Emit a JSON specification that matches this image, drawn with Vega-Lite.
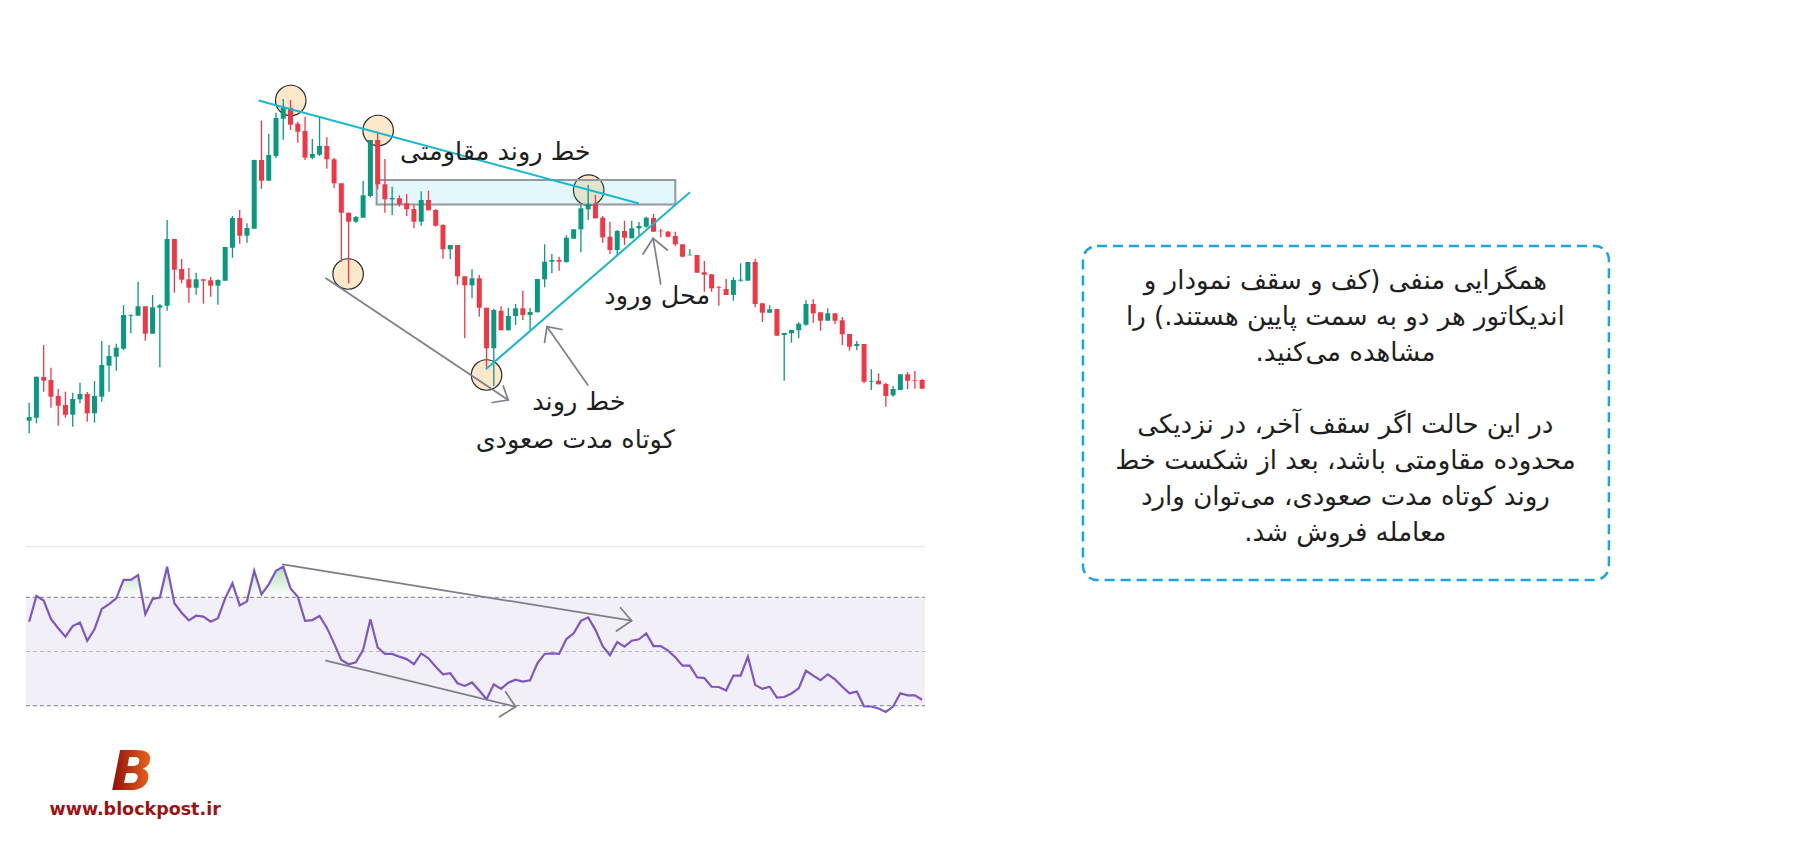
{
  "$schema": "https://vega.github.io/schema/vega-lite/v6.json",
  "width": 1820,
  "height": 845,
  "autosize": {"type": "fit", "contains": "padding"},
  "padding": 0,
  "background": "white",
  "config": {"view": {"stroke": null}},
  "datasets": {
    "candles": [
      {"i":1,"o":42.43,"h":44.23,"l":41.17,"c":42.8},
      {"i":2,"o":42.73,"h":46.83,"l":42.17,"c":46.83},
      {"i":3,"o":46.8,"h":50.0,"l":45.33,"c":46.43},
      {"i":4,"o":46.5,"h":47.73,"l":43.73,"c":44.83},
      {"i":5,"o":44.9,"h":45.6,"l":41.93,"c":43.93},
      {"i":6,"o":44.0,"h":45.33,"l":42.73,"c":43.03},
      {"i":7,"o":43.03,"h":45.23,"l":41.83,"c":44.6},
      {"i":8,"o":44.57,"h":46.23,"l":44.17,"c":45.1},
      {"i":9,"o":45.1,"h":45.3,"l":42.33,"c":43.17},
      {"i":10,"o":43.17,"h":46.4,"l":42.23,"c":44.9},
      {"i":11,"o":44.83,"h":50.4,"l":44.33,"c":48.0},
      {"i":12,"o":47.93,"h":50.0,"l":45.33,"c":48.9},
      {"i":13,"o":48.83,"h":50.13,"l":47.43,"c":49.73},
      {"i":14,"o":49.63,"h":54.0,"l":49.5,"c":53.0},
      {"i":15,"o":52.93,"h":53.07,"l":51.17,"c":53.0},
      {"i":16,"o":52.93,"h":56.33,"l":52.93,"c":53.87},
      {"i":17,"o":53.87,"h":53.87,"l":50.43,"c":51.13},
      {"i":18,"o":51.13,"h":55.0,"l":51.13,"c":53.77},
      {"i":19,"o":53.73,"h":54.1,"l":47.77,"c":53.97},
      {"i":20,"o":53.93,"h":62.5,"l":53.43,"c":60.6},
      {"i":21,"o":60.6,"h":60.6,"l":55.23,"c":57.53},
      {"i":22,"o":57.6,"h":58.6,"l":56.17,"c":56.53},
      {"i":23,"o":56.57,"h":57.7,"l":54.23,"c":55.73},
      {"i":24,"o":55.73,"h":57.23,"l":55.03,"c":56.57},
      {"i":25,"o":56.57,"h":56.57,"l":54.13,"c":56.43},
      {"i":26,"o":56.47,"h":56.8,"l":54.83,"c":55.93},
      {"i":27,"o":55.93,"h":56.57,"l":54.03,"c":56.5},
      {"i":28,"o":56.43,"h":59.8,"l":56.43,"c":59.8},
      {"i":29,"o":59.73,"h":62.9,"l":58.73,"c":62.7},
      {"i":30,"o":62.7,"h":63.5,"l":60.13,"c":60.93},
      {"i":31,"o":60.93,"h":62.17,"l":60.23,"c":61.7},
      {"i":32,"o":61.63,"h":68.53,"l":61.63,"c":68.5},
      {"i":33,"o":68.5,"h":72.43,"l":65.63,"c":66.43},
      {"i":34,"o":66.43,"h":71.13,"l":66.43,"c":69.0},
      {"i":35,"o":68.9,"h":73.23,"l":68.7,"c":72.7},
      {"i":36,"o":72.63,"h":74.6,"l":70.53,"c":73.7},
      {"i":37,"o":73.7,"h":74.5,"l":71.5,"c":72.03},
      {"i":38,"o":72.13,"h":72.33,"l":70.23,"c":71.33},
      {"i":39,"o":71.4,"h":72.83,"l":68.5,"c":68.73},
      {"i":40,"o":68.73,"h":70.6,"l":68.57,"c":69.1},
      {"i":41,"o":69.03,"h":72.73,"l":68.9,"c":69.9},
      {"i":42,"o":69.9,"h":70.77,"l":67.63,"c":68.57},
      {"i":43,"o":68.57,"h":68.73,"l":65.67,"c":66.17},
      {"i":44,"o":66.17,"h":66.17,"l":58.3,"c":63.23},
      {"i":45,"o":63.23,"h":63.23,"l":56.17,"c":62.33},
      {"i":46,"o":62.33,"h":62.9,"l":62.23,"c":62.8},
      {"i":47,"o":62.73,"h":66.4,"l":62.73,"c":64.97},
      {"i":48,"o":64.9,"h":70.5,"l":64.77,"c":70.5},
      {"i":49,"o":70.5,"h":71.33,"l":65.57,"c":66.07},
      {"i":50,"o":66.07,"h":68.6,"l":63.23,"c":64.57},
      {"i":51,"o":64.57,"h":65.83,"l":63.0,"c":64.7},
      {"i":52,"o":64.67,"h":64.97,"l":63.83,"c":64.1},
      {"i":53,"o":64.17,"h":65.1,"l":62.9,"c":63.57},
      {"i":54,"o":63.6,"h":64.0,"l":61.67,"c":62.33},
      {"i":55,"o":62.33,"h":65.37,"l":61.93,"c":64.5},
      {"i":56,"o":64.5,"h":65.43,"l":63.47,"c":63.47},
      {"i":57,"o":63.5,"h":63.57,"l":61.83,"c":61.93},
      {"i":58,"o":62.0,"h":62.07,"l":58.63,"c":59.57},
      {"i":59,"o":59.57,"h":60.0,"l":58.57,"c":60.0},
      {"i":60,"o":60.0,"h":60.0,"l":56.03,"c":56.87},
      {"i":61,"o":56.87,"h":56.87,"l":50.67,"c":55.97},
      {"i":62,"o":55.97,"h":57.57,"l":54.67,"c":56.67},
      {"i":63,"o":56.67,"h":57.0,"l":52.83,"c":53.73},
      {"i":64,"o":53.73,"h":53.73,"l":47.7,"c":49.67},
      {"i":65,"o":49.67,"h":53.63,"l":45.9,"c":53.5},
      {"i":66,"o":53.43,"h":53.87,"l":51.47,"c":51.47},
      {"i":67,"o":51.47,"h":53.7,"l":51.47,"c":52.9},
      {"i":68,"o":52.9,"h":54.1,"l":52.0,"c":53.67},
      {"i":69,"o":53.67,"h":55.43,"l":52.5,"c":53.0},
      {"i":70,"o":53.0,"h":53.7,"l":51.5,"c":53.3},
      {"i":71,"o":53.27,"h":56.6,"l":53.27,"c":56.6},
      {"i":72,"o":56.57,"h":60.07,"l":55.77,"c":58.33},
      {"i":73,"o":58.33,"h":59.1,"l":57.17,"c":58.5},
      {"i":74,"o":58.5,"h":58.83,"l":57.43,"c":58.33},
      {"i":75,"o":58.3,"h":60.97,"l":58.23,"c":60.73},
      {"i":76,"o":60.63,"h":61.57,"l":60.63,"c":61.57},
      {"i":77,"o":61.57,"h":64.07,"l":59.27,"c":63.67},
      {"i":78,"o":63.57,"h":66.0,"l":62.5,"c":64.1},
      {"i":79,"o":64.1,"h":65.0,"l":62.67,"c":62.67},
      {"i":80,"o":62.73,"h":62.9,"l":60.23,"c":60.77},
      {"i":81,"o":60.83,"h":62.33,"l":59.1,"c":59.5},
      {"i":82,"o":59.5,"h":61.5,"l":59.0,"c":61.4},
      {"i":83,"o":61.4,"h":62.43,"l":60.0,"c":60.73},
      {"i":84,"o":60.67,"h":62.43,"l":60.67,"c":61.67},
      {"i":85,"o":61.67,"h":62.3,"l":60.83,"c":61.9},
      {"i":86,"o":61.83,"h":62.83,"l":61.73,"c":62.73},
      {"i":87,"o":62.7,"h":63.1,"l":61.33,"c":61.33},
      {"i":88,"o":61.43,"h":61.6,"l":60.77,"c":61.37},
      {"i":89,"o":61.33,"h":61.4,"l":60.77,"c":60.83},
      {"i":90,"o":60.9,"h":61.33,"l":59.9,"c":60.07},
      {"i":91,"o":60.07,"h":60.07,"l":58.83,"c":58.83},
      {"i":92,"o":58.97,"h":59.57,"l":58.97,"c":59.03},
      {"i":93,"o":59.0,"h":59.0,"l":57.23,"c":57.23},
      {"i":94,"o":57.27,"h":58.4,"l":55.33,"c":57.03},
      {"i":95,"o":57.07,"h":57.07,"l":55.33,"c":55.67},
      {"i":96,"o":55.77,"h":55.9,"l":53.93,"c":55.7},
      {"i":97,"o":55.6,"h":56.6,"l":55.0,"c":55.0},
      {"i":98,"o":55.0,"h":56.77,"l":54.43,"c":56.5},
      {"i":99,"o":56.43,"h":58.17,"l":56.33,"c":56.53},
      {"i":100,"o":56.43,"h":58.3,"l":56.43,"c":58.3},
      {"i":101,"o":58.3,"h":58.63,"l":53.77,"c":54.1},
      {"i":102,"o":54.17,"h":54.17,"l":52.3,"c":53.23},
      {"i":103,"o":53.23,"h":53.97,"l":53.23,"c":53.57},
      {"i":104,"o":53.6,"h":53.6,"l":50.93,"c":50.93},
      {"i":105,"o":51.0,"h":51.2,"l":46.43,"c":51.2},
      {"i":106,"o":51.17,"h":51.5,"l":50.23,"c":51.5},
      {"i":107,"o":51.47,"h":52.27,"l":50.67,"c":52.13},
      {"i":108,"o":52.03,"h":54.47,"l":51.93,"c":54.1},
      {"i":109,"o":54.1,"h":54.57,"l":52.23,"c":53.17},
      {"i":110,"o":53.27,"h":53.27,"l":51.43,"c":52.43},
      {"i":111,"o":52.43,"h":53.67,"l":52.43,"c":53.17},
      {"i":112,"o":53.17,"h":53.17,"l":52.1,"c":52.43},
      {"i":113,"o":52.47,"h":52.8,"l":49.97,"c":51.07},
      {"i":114,"o":51.1,"h":51.1,"l":49.43,"c":49.83},
      {"i":115,"o":49.9,"h":50.4,"l":49.47,"c":50.1},
      {"i":116,"o":50.1,"h":50.1,"l":46.17,"c":46.33},
      {"i":117,"o":46.33,"h":47.57,"l":45.5,"c":46.4},
      {"i":118,"o":46.43,"h":47.17,"l":46.07,"c":46.07},
      {"i":119,"o":46.1,"h":46.23,"l":43.83,"c":44.9},
      {"i":120,"o":44.97,"h":45.9,"l":44.83,"c":45.6},
      {"i":121,"o":45.5,"h":47.07,"l":45.5,"c":47.07},
      {"i":122,"o":47.07,"h":47.3,"l":45.57,"c":46.43},
      {"i":123,"o":46.5,"h":47.4,"l":45.63,"c":46.43},
      {"i":124,"o":46.5,"h":46.6,"l":45.63,"c":45.63}
    ],
    "rsi": [
      {"i":1,"r":61.0},{"i":2,"r":70.5},{"i":3,"r":68.8},{"i":4,"r":62.0},{"i":5,"r":58.6},
      {"i":6,"r":55.5},{"i":7,"r":59.4},{"i":8,"r":60.7},{"i":9,"r":53.9},{"i":10,"r":58.2},
      {"i":11,"r":65.7},{"i":12,"r":67.5},{"i":13,"r":69.6},{"i":14,"r":76.4},{"i":15,"r":76.4},
      {"i":16,"r":78.2},{"i":17,"r":63.8},{"i":18,"r":69.4},{"i":19,"r":69.9},{"i":20,"r":81.3},
      {"i":21,"r":67.8},{"i":22,"r":64.3},{"i":23,"r":61.5},{"i":24,"r":63.2},{"i":25,"r":62.9},
      {"i":26,"r":61.0},{"i":27,"r":62.3},{"i":28,"r":69.6},{"i":29,"r":75.2},{"i":30,"r":67.0},
      {"i":31,"r":68.5},{"i":32,"r":79.8},{"i":33,"r":71.1},{"i":34,"r":74.8},{"i":35,"r":79.8},
      {"i":36,"r":81.3},{"i":37,"r":73.3},{"i":38,"r":70.2},{"i":39,"r":61.3},{"i":40,"r":61.6},
      {"i":41,"r":63.1},{"i":42,"r":58.8},{"i":43,"r":53.0},{"i":44,"r":46.9},{"i":45,"r":45.3},
      {"i":46,"r":46.0},{"i":47,"r":50.6},{"i":48,"r":61.9},{"i":49,"r":51.5},{"i":50,"r":49.1},
      {"i":51,"r":49.1},{"i":52,"r":48.1},{"i":53,"r":47.2},{"i":54,"r":45.3},{"i":55,"r":49.3},
      {"i":56,"r":47.5},{"i":57,"r":44.4},{"i":58,"r":41.6},{"i":59,"r":42.0},{"i":60,"r":38.3},
      {"i":61,"r":37.3},{"i":62,"r":38.6},{"i":63,"r":35.6},{"i":64,"r":32.4},{"i":65,"r":37.9},
      {"i":66,"r":36.2},{"i":67,"r":38.5},{"i":68,"r":39.6},{"i":69,"r":38.9},{"i":70,"r":39.4},
      {"i":71,"r":45.6},{"i":72,"r":49.1},{"i":73,"r":49.3},{"i":74,"r":49.1},{"i":75,"r":54.6},
      {"i":76,"r":56.7},{"i":77,"r":61.3},{"i":78,"r":62.6},{"i":79,"r":58.0},{"i":80,"r":52.0},
      {"i":81,"r":48.6},{"i":82,"r":53.5},{"i":83,"r":51.8},{"i":84,"r":54.0},{"i":85,"r":54.5},
      {"i":86,"r":56.7},{"i":87,"r":52.0},{"i":88,"r":52.0},{"i":89,"r":50.3},{"i":90,"r":47.9},
      {"i":91,"r":44.8},{"i":92,"r":44.8},{"i":93,"r":40.5},{"i":94,"r":40.2},{"i":95,"r":37.0},
      {"i":96,"r":36.9},{"i":97,"r":35.6},{"i":98,"r":41.1},{"i":99,"r":41.1},{"i":100,"r":48.1},
      {"i":101,"r":37.7},{"i":102,"r":36.2},{"i":103,"r":37.0},{"i":104,"r":33.0},{"i":105,"r":33.2},
      {"i":106,"r":34.5},{"i":107,"r":36.4},{"i":108,"r":42.9},{"i":109,"r":41.1},{"i":110,"r":39.4},
      {"i":111,"r":41.6},{"i":112,"r":39.7},{"i":113,"r":37.0},{"i":114,"r":34.6},{"i":115,"r":35.2},
      {"i":116,"r":29.7},{"i":117,"r":29.7},{"i":118,"r":29.0},{"i":119,"r":27.7},{"i":120,"r":29.7},
      {"i":121,"r":34.6},{"i":122,"r":33.8},{"i":123,"r":33.8},{"i":124,"r":32.2}
    ],
    "circles": [
      {"i":37.03,"p":74.45},
      {"i":49.07,"p":71.45},
      {"i":44.93,"p":57.1},
      {"i":64.0,"p":47.0},
      {"i":78.07,"p":65.48}
    ],
    "zone": [{"i1":48.86,"i2":90.0,"p1":66.5,"p2":64.05}],
    "trendlines": [
      {"i1":32.6,"p1":74.45,"i2":85.0,"p2":64.15},
      {"i1":63.9,"p1":47.57,"i2":92.01,"p2":65.27}
    ],
    "arrows": [
      {"i1":41.88,"p1":56.67,"i2":66.99,"p2":44.5},
      {"i1":66.99,"p1":44.5,"i2":66.3,"p2":45.9},
      {"i1":66.99,"p1":44.5,"i2":64.79,"p2":44.25},
      {"i1":77.95,"p1":46.0,"i2":72.33,"p2":51.83},
      {"i1":72.33,"p1":51.83,"i2":71.99,"p2":50.25},
      {"i1":72.33,"p1":51.83,"i2":74.38,"p2":51.55},
      {"i1":87.99,"p1":56.1,"i2":86.95,"p2":60.67},
      {"i1":86.95,"p1":60.67,"i2":85.55,"p2":59.1},
      {"i1":86.95,"p1":60.67,"i2":88.9,"p2":59.5}
    ],
    "labels": [
      {"i":65.21,"p":69.35,"text":"خط روند مقاومتی"},
      {"i":76.71,"p":44.35,"text":"خط روند"},
      {"i":76.22,"p":40.5,"text":"کوتاه مدت صعودی"},
      {"i":87.51,"p":54.9,"text":"محل ورود"}
    ],
    "notebox": [{"i1":146.15,"i2":218.6,"p1":59.9,"p2":26.5}],
    "note": [
      {"i":182.3,"p":56.4,"text":"همگرایی منفی (کف و سقف نمودار و\nاندیکاتور هر دو به سمت پایین هستند.) را\nمشاهده می‌کنید.‏"},
      {"i":182.3,"p":42.02,"text":"در این حالت اگر سقف آخر، در نزدیکی\nمحدوده مقاومتی باشد، بعد از شکست خط\nروند کوتاه مدت صعودی، می‌توان وارد\nمعامله فروش شد.‏"}
    ],
    "logo": [{"i":15.2,"p":7.25,"text":"B"}],
    "site": [{"i":15.6,"p":3.5,"text":"www.blockpost.ir"}],
    "levels": [{"r":70},{"r":30}],
    "rsiarrows": [
      {"i1":35.93,"r1":82.18,"i2":83.97,"r2":61.37},
      {"i1":83.97,"r1":61.37,"i2":82.45,"r2":66.17},
      {"i1":83.97,"r1":61.37,"i2":81.9,"r2":57.56},
      {"i1":41.88,"r1":46.61,"i2":67.99,"r2":29.63},
      {"i1":67.99,"r1":29.63,"i2":66.62,"r2":35.17},
      {"i1":67.99,"r1":29.63,"i2":65.79,"r2":25.94}
    ]
  },
  "layer": [
    {
      "layer": [
        {
          "data": {"name": "circles"},
          "mark": {"type": "point", "shape": "circle", "filled": true, "size": 930, "color": "#FDE8CC", "stroke": "#2B2B2B", "strokeWidth": 1.2, "opacity": 1},
          "encoding": {
            "x": {"field": "i", "type": "quantitative", "scale": {"domain": [-2.329, 246.986], "nice": false, "zero": false}, "axis": null},
            "y": {"field": "p", "type": "quantitative", "scale": {"domain": [0, 84.5], "nice": false, "zero": false}, "axis": null}
          }
        },
        {
          "data": {"name": "zone"},
          "mark": {"type": "rect", "fill": "#00BCD4", "fillOpacity": 0.11, "stroke": "#9598A1", "strokeWidth": 2},
          "encoding": {
            "x": {"field": "i1", "type": "quantitative", "scale": {"domain": [-2.329, 246.986], "nice": false, "zero": false}, "axis": null},
            "x2": {"field": "i2"},
            "y": {"field": "p1", "type": "quantitative", "scale": {"domain": [0, 84.5], "nice": false, "zero": false}, "axis": null},
            "y2": {"field": "p2"}
          }
        },
        {
          "data": {"name": "candles"},
          "mark": {"type": "rule", "strokeWidth": 1.3},
          "encoding": {
            "x": {"field": "i", "type": "quantitative", "scale": {"domain": [-2.329, 246.986], "nice": false, "zero": false}, "axis": null},
            "y": {"field": "l", "type": "quantitative", "scale": {"domain": [0, 84.5], "nice": false, "zero": false}, "axis": null},
            "y2": {"field": "h"},
            "color": {"condition": {"test": "datum.c >= datum.o", "value": "#089981"}, "value": "#F23645"}
          }
        },
        {
          "data": {"name": "candles"},
          "mark": {"type": "bar", "size": 5},
          "encoding": {
            "x": {"field": "i", "type": "quantitative", "scale": {"domain": [-2.329, 246.986], "nice": false, "zero": false}, "axis": null},
            "y": {"field": "o", "type": "quantitative", "scale": {"domain": [0, 84.5], "nice": false, "zero": false}, "axis": null},
            "y2": {"field": "c"},
            "color": {"condition": {"test": "datum.c >= datum.o", "value": "#089981"}, "value": "#F23645"}
          }
        },
        {
          "data": {"name": "trendlines"},
          "mark": {"type": "rule", "color": "#18B8D3", "strokeWidth": 2},
          "encoding": {
            "x": {"field": "i1", "type": "quantitative", "scale": {"domain": [-2.329, 246.986], "nice": false, "zero": false}, "axis": null},
            "x2": {"field": "i2"},
            "y": {"field": "p1", "type": "quantitative", "scale": {"domain": [0, 84.5], "nice": false, "zero": false}, "axis": null},
            "y2": {"field": "p2"}
          }
        },
        {
          "data": {"name": "arrows"},
          "mark": {"type": "rule", "color": "#7C7F8A", "strokeWidth": 1.7, "strokeCap": "round"},
          "encoding": {
            "x": {"field": "i1", "type": "quantitative", "scale": {"domain": [-2.329, 246.986], "nice": false, "zero": false}, "axis": null},
            "x2": {"field": "i2"},
            "y": {"field": "p1", "type": "quantitative", "scale": {"domain": [0, 84.5], "nice": false, "zero": false}, "axis": null},
            "y2": {"field": "p2"}
          }
        },
        {
          "data": {"name": "labels"},
          "mark": {"type": "text", "font": "DejaVu Sans", "fontSize": 25.5, "color": "#1E1E1E", "align": "center", "baseline": "middle"},
          "encoding": {
            "x": {"field": "i", "type": "quantitative", "scale": {"domain": [-2.329, 246.986], "nice": false, "zero": false}, "axis": null},
            "y": {"field": "p", "type": "quantitative", "scale": {"domain": [0, 84.5], "nice": false, "zero": false}, "axis": null},
            "text": {"field": "text"}
          }
        },
        {
          "data": {"name": "notebox"},
          "mark": {"type": "rect", "cornerRadius": 14, "fill": "white", "fillOpacity": 0, "stroke": "#1AA6E2", "strokeWidth": 2.5, "strokeDash": [10, 6]},
          "encoding": {
            "x": {"field": "i1", "type": "quantitative", "scale": {"domain": [-2.329, 246.986], "nice": false, "zero": false}, "axis": null},
            "x2": {"field": "i2"},
            "y": {"field": "p1", "type": "quantitative", "scale": {"domain": [0, 84.5], "nice": false, "zero": false}, "axis": null},
            "y2": {"field": "p2"}
          }
        },
        {
          "data": {"name": "note"},
          "mark": {"type": "text", "font": "DejaVu Sans", "fontSize": 26, "lineHeight": 36, "lineBreak": "\n", "color": "#1E1E1E", "align": "center", "baseline": "middle"},
          "encoding": {
            "x": {"field": "i", "type": "quantitative", "scale": {"domain": [-2.329, 246.986], "nice": false, "zero": false}, "axis": null},
            "y": {"field": "p", "type": "quantitative", "scale": {"domain": [0, 84.5], "nice": false, "zero": false}, "axis": null},
            "text": {"field": "text"}
          }
        },
        {
          "data": {"name": "logo"},
          "mark": {"type": "text", "font": "DejaVu Sans", "fontSize": 56, "fontWeight": "bold", "fontStyle": "italic", "align": "center", "baseline": "middle",
            "color": {"gradient": "linear", "x1": 0, "y1": 0, "x2": 1, "y2": 0, "stops": [{"offset": 0, "color": "#8E0B0B"}, {"offset": 1, "color": "#F26A1B"}]}},
          "encoding": {
            "x": {"field": "i", "type": "quantitative", "scale": {"domain": [-2.329, 246.986], "nice": false, "zero": false}, "axis": null},
            "y": {"field": "p", "type": "quantitative", "scale": {"domain": [0, 84.5], "nice": false, "zero": false}, "axis": null},
            "text": {"field": "text"}
          }
        },
        {
          "data": {"name": "site"},
          "mark": {"type": "text", "font": "DejaVu Sans", "fontSize": 17.5, "fontWeight": "bold", "color": "#9E1212", "align": "center", "baseline": "middle"},
          "encoding": {
            "x": {"field": "i", "type": "quantitative", "scale": {"domain": [-2.329, 246.986], "nice": false, "zero": false}, "axis": null},
            "y": {"field": "p", "type": "quantitative", "scale": {"domain": [0, 84.5], "nice": false, "zero": false}, "axis": null},
            "text": {"field": "text"}
          }
        }
      ]
    },
    {
      "layer": [
        {
          "data": {"name": "rsi"},
          "mark": {"type": "area", "color": {"gradient": "linear", "x1": 0, "y1": 0, "x2": 0, "y2": 1, "stops": [{"offset": 0, "color": "rgba(76,175,80,0.40)"}, {"offset": 0.21, "color": "rgba(76,175,80,0.0)"}, {"offset": 1, "color": "rgba(76,175,80,0.0)"}]}},
          "encoding": {
            "x": {"field": "i", "type": "quantitative", "scale": {"domain": [-2.329, 246.986], "nice": false, "zero": false}, "axis": null},
            "y": {"field": "r", "type": "quantitative", "scale": {"domain": [-21.4, 290.41], "nice": false, "zero": false}, "axis": null},
            "y2": {"datum": 70}
          }
        },
        {
          "data": {"values": [{}]},
          "mark": {"type": "rect", "fill": "#F2EFF9"},
          "encoding": {
            "x": {"datum": 0.55, "type": "quantitative", "scale": {"domain": [-2.329, 246.986], "nice": false, "zero": false}, "axis": null},
            "x2": {"datum": 124.38},
            "y": {"datum": 70, "type": "quantitative", "scale": {"domain": [-21.4, 290.41], "nice": false, "zero": false}, "axis": null},
            "y2": {"datum": 30}
          }
        },
        {
          "data": {"values": [{}]},
          "mark": {"type": "rule", "color": "#E0E3EB", "strokeWidth": 1},
          "encoding": {
            "x": {"datum": 0.55, "type": "quantitative", "scale": {"domain": [-2.329, 246.986], "nice": false, "zero": false}, "axis": null},
            "x2": {"datum": 124.38},
            "y": {"datum": 88.67, "type": "quantitative", "scale": {"domain": [-21.4, 290.41], "nice": false, "zero": false}, "axis": null}
          }
        },
        {
          "data": {"name": "levels"},
          "mark": {"type": "rule", "color": "#787B86", "strokeWidth": 1, "strokeDash": [4, 3]},
          "encoding": {
            "x": {"datum": 0.55, "type": "quantitative", "scale": {"domain": [-2.329, 246.986], "nice": false, "zero": false}, "axis": null},
            "x2": {"datum": 124.38},
            "y": {"field": "r", "type": "quantitative", "scale": {"domain": [-21.4, 290.41], "nice": false, "zero": false}, "axis": null}
          }
        },
        {
          "data": {"values": [{}]},
          "mark": {"type": "rule", "color": "#B8BAC2", "strokeWidth": 1, "strokeDash": [4, 3]},
          "encoding": {
            "x": {"datum": 0.55, "type": "quantitative", "scale": {"domain": [-2.329, 246.986], "nice": false, "zero": false}, "axis": null},
            "x2": {"datum": 124.38},
            "y": {"datum": 50, "type": "quantitative", "scale": {"domain": [-21.4, 290.41], "nice": false, "zero": false}, "axis": null}
          }
        },
        {
          "data": {"name": "rsi"},
          "mark": {"type": "line", "color": "#7E57C2", "strokeWidth": 2.2},
          "encoding": {
            "x": {"field": "i", "type": "quantitative", "scale": {"domain": [-2.329, 246.986], "nice": false, "zero": false}, "axis": null},
            "y": {"field": "r", "type": "quantitative", "scale": {"domain": [-21.4, 290.41], "nice": false, "zero": false}, "axis": null}
          }
        },
        {
          "data": {"name": "rsiarrows"},
          "mark": {"type": "rule", "color": "#7C7F8A", "strokeWidth": 1.7, "strokeCap": "round"},
          "encoding": {
            "x": {"field": "i1", "type": "quantitative", "scale": {"domain": [-2.329, 246.986], "nice": false, "zero": false}, "axis": null},
            "x2": {"field": "i2"},
            "y": {"field": "r1", "type": "quantitative", "scale": {"domain": [-21.4, 290.41], "nice": false, "zero": false}, "axis": null},
            "y2": {"field": "r2"}
          }
        }
      ]
    }
  ],
  "resolve": {"scale": {"y": "independent"}}
}
